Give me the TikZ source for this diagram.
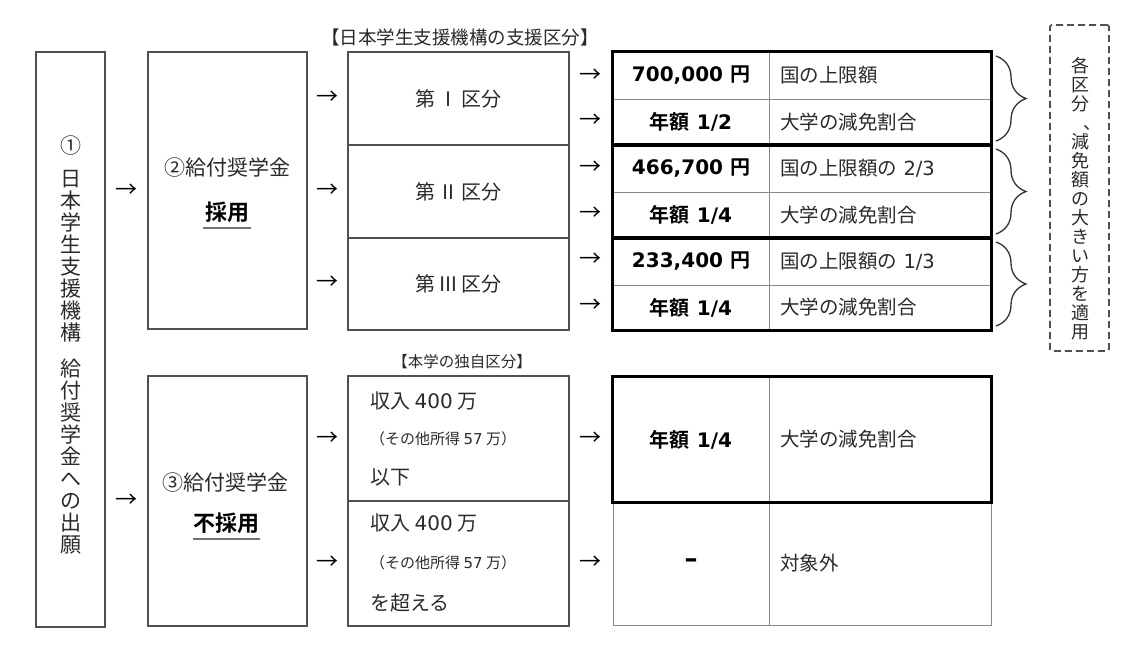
\documentclass[tikz,border=0pt]{standalone}
\usepackage{fontspec}
\setmainfont{DejaVu Sans}
\newfontfamily\jp{Noto Sans CJK JP}[BoldFont={Noto Sans CJK JP Bold}]
\newfontfamily\lat{DejaVu Sans}
\usetikzlibrary{decorations.pathreplacing}
\definecolor{boxgray}{HTML}{505050}
\definecolor{linegray}{HTML}{8A8A8A}
\definecolor{txt}{HTML}{2A2A2A}
\newcommand{\myfs}[1]{\fontsize{#1}{#1}\selectfont}
\tikzset{
  frame/.style={draw=boxgray, line width=1.3pt, inner sep=0pt},
  cell/.style={draw=linegray, line width=1pt, inner sep=0pt},
  grp/.style={draw=black, line width=3pt},
  jtext/.style={font=\jp\myfs{20}, text=txt, inner sep=0pt},
  stext/.style={font=\jp\myfs{15}, text=txt, inner sep=0pt},
  numtext/.style={font=\bfseries\myfs{20}, text=black},
  rcell/.style={cell, text width=200pt, inner xsep=11pt, align=left, minimum height=#1, font=\jp\myfs{19.5}, text=txt},
  lcell/.style={cell, minimum width=156pt, minimum height=#1, numtext},
  vtext/.style 2 args={font=\jp\fontsize{#1}{#2}\selectfont, align=center, inner sep=0pt, text=txt},
  arr/.style={font=\jp\myfs{22}, text=black, inner sep=0pt},
  uline/.style={draw=black!55, line width=2pt},
  bracestyle/.style={draw=black!80, line width=1.3pt, decorate, decoration={brace, amplitude=30pt}},
}
\begin{document}
\begin{tikzpicture}[x=1pt,y=-1pt]
\useasboundingbox[fill=white] (0,0) rectangle (1140,656);

% column 1
\node[frame, minimum width=69pt, minimum height=575pt] (b1) at (70.5,339.5) {};
\node[vtext={21}{22}, anchor=north] (b1t) at (70.5,136) {①\\[11pt]日\\本\\学\\生\\支\\援\\機\\構\\[14pt]給\\付\\奨\\学\\金\\へ\\の\\出\\願};

\node[arr] (arA1) at (126,191) {→};
\node[arr] (arA2) at (126,501) {→};

% column 2
\node[frame, minimum width=159pt, minimum height=277pt] (b2) at (227.5,190.5) {};
\node[font=\jp\myfs{21}, text=txt, inner sep=0pt] (b2t) at (227.5,168) {②給付奨学金};
\node[font=\jp\bfseries\myfs{22}, text=black, inner sep=0pt] (b2s) at (227.5,212) {採用};
\coordinate (u1a) at (203,228);
\coordinate (u1b) at (251,228);
\draw[uline] (u1a) -- (u1b);

\node[frame, minimum width=159pt, minimum height=250pt] (b3) at (227.5,501) {};
\node[font=\jp\myfs{21}, text=txt, inner sep=0pt] (b3t) at (225,483) {③給付奨学金};
\node[font=\jp\bfseries\myfs{22}, text=black, inner sep=0pt] (b3s) at (226.5,523) {不採用};
\coordinate (u2a) at (193,539);
\coordinate (u2b) at (260,539);
\draw[uline] (u2a) -- (u2b);

% arrows B
\node[arr] (arB1) at (327.5,98) {→};
\node[arr] (arB2) at (327.5,191) {→};
\node[arr] (arB3) at (327.5,283) {→};
\node[arr] (arB4) at (327.5,439) {→};
\node[arr] (arB5) at (327.5,563) {→};

% titles
\node[font=\jp\myfs{18.5}, text=txt, inner sep=0pt] (t1) at (460,37) {【日本学生支援機構の支援区分】};
\node[font=\jp\myfs{15.5}, text=txt, inner sep=0pt] (t2) at (462,362) {【本学の独自区分】};

% column 3 (JASSO categories)
\node[frame, jtext, minimum width=221pt, minimum height=93pt] (k1) at (458.5,98.5) {第\hspace{3pt}Ⅰ\hspace{3pt}区分};
\node[frame, jtext, minimum width=221pt, minimum height=93pt] (k2) at (458.5,191.5) {第\hspace{3pt}Ⅱ\hspace{3pt}区分};
\node[frame, jtext, minimum width=221pt, minimum height=92pt] (k3) at (458.5,284) {第\hspace{3pt}Ⅲ\hspace{3pt}区分};

% column 3 (own categories)
\node[frame, minimum width=221pt, minimum height=125pt] (m1) at (458.5,438.5) {};
\node[frame, minimum width=221pt, minimum height=125pt] (m2) at (458.5,563.5) {};
\node[jtext, anchor=west] (m1a) at (370,401) {収入 {\lat 400} 万};
\node[stext, anchor=west] (m1b) at (370,439) {（その他所得 {\lat 57} 万）};
\node[jtext, anchor=west] (m1c) at (370,477) {以下};
\node[jtext, anchor=west] (m2a) at (370,523) {収入 {\lat 400} 万};
\node[stext, anchor=west] (m2b) at (370,563) {（その他所得 {\lat 57} 万）};
\node[jtext, anchor=west] (m2c) at (370,603) {を超える};

% arrows C
\node[arr] (arC1) at (590.5,76) {→};
\node[arr] (arC2) at (590.5,121) {→};
\node[arr] (arC3) at (590.5,168) {→};
\node[arr] (arC4) at (590.5,214) {→};
\node[arr] (arC5) at (590.5,260) {→};
\node[arr] (arC6) at (590.5,306) {→};
\node[arr] (arC7) at (590.5,439) {→};
\node[arr] (arC8) at (590.5,563) {→};

% right table
\node[lcell=47pt] (a1) at (691,75.5) {700,000 {\jp 円}};
\node[lcell=46pt] (a2) at (691,122) {{\jp 年額} 1/2};
\node[lcell=47pt] (a3) at (691,168.5) {466,700 {\jp 円}};
\node[lcell=46pt] (a4) at (691,215) {{\jp 年額} 1/4};
\node[lcell=47pt] (a5) at (691,261.5) {233,400 {\jp 円}};
\node[lcell=45pt] (a6) at (691,307.5) {{\jp 年額} 1/4};
\node[rcell=47pt] (r1) at (880,75.5) {国の上限額};
\node[rcell=46pt] (r2) at (880,122) {大学の減免割合};
\node[rcell=47pt] (r3) at (880,168.5) {国の上限額の {\lat 2/3}};
\node[rcell=46pt] (r4) at (880,215) {大学の減免割合};
\node[rcell=47pt] (r5) at (880,261.5) {国の上限額の {\lat 1/3}};
\node[rcell=45pt] (r6) at (880,307.5) {大学の減免割合};
\draw[grp] (a1.north west) rectangle (r2.south east);
\draw[grp] (a3.north west) rectangle (r4.south east);
\draw[grp] (a5.north west) rectangle (r6.south east);

% bottom table
\node[lcell=125pt] (d1) at (691,439.5) {{\jp 年額} 1/4};
\node[rcell=125pt] (e1) at (880,439.5) {大学の減免割合};
\node[lcell=123pt, font=\bfseries\myfs{26}] (d2) at (691,563.5) {–};
\node[rcell=123pt] (e2) at (880,563.5) {対象外};
\draw[grp] (d1.north west) rectangle (e1.south east);

% braces
\coordinate (br1a) at (996,56);
\coordinate (br1b) at (996,141);
\coordinate (br2a) at (996,149);
\coordinate (br2b) at (996,234);
\coordinate (br3a) at (996,242);
\coordinate (br3b) at (996,326);
\draw[bracestyle] (br1a) -- (br1b);
\draw[bracestyle] (br2a) -- (br2b);
\draw[bracestyle] (br3a) -- (br3b);

% note box
\node[draw=boxgray, line width=1.8pt, dash pattern=on 7pt off 4pt, rounded corners=2pt, minimum width=59pt, minimum height=326pt, inner sep=0pt] (note) at (1079.5,188) {};
\node[vtext={18}{19}, anchor=north] (notet) at (1080,57) {各\\区\\分\\{\hspace*{24pt}、}\\減\\免\\額\\の\\大\\き\\い\\方\\を\\適\\用};
\end{tikzpicture}
\end{document}
